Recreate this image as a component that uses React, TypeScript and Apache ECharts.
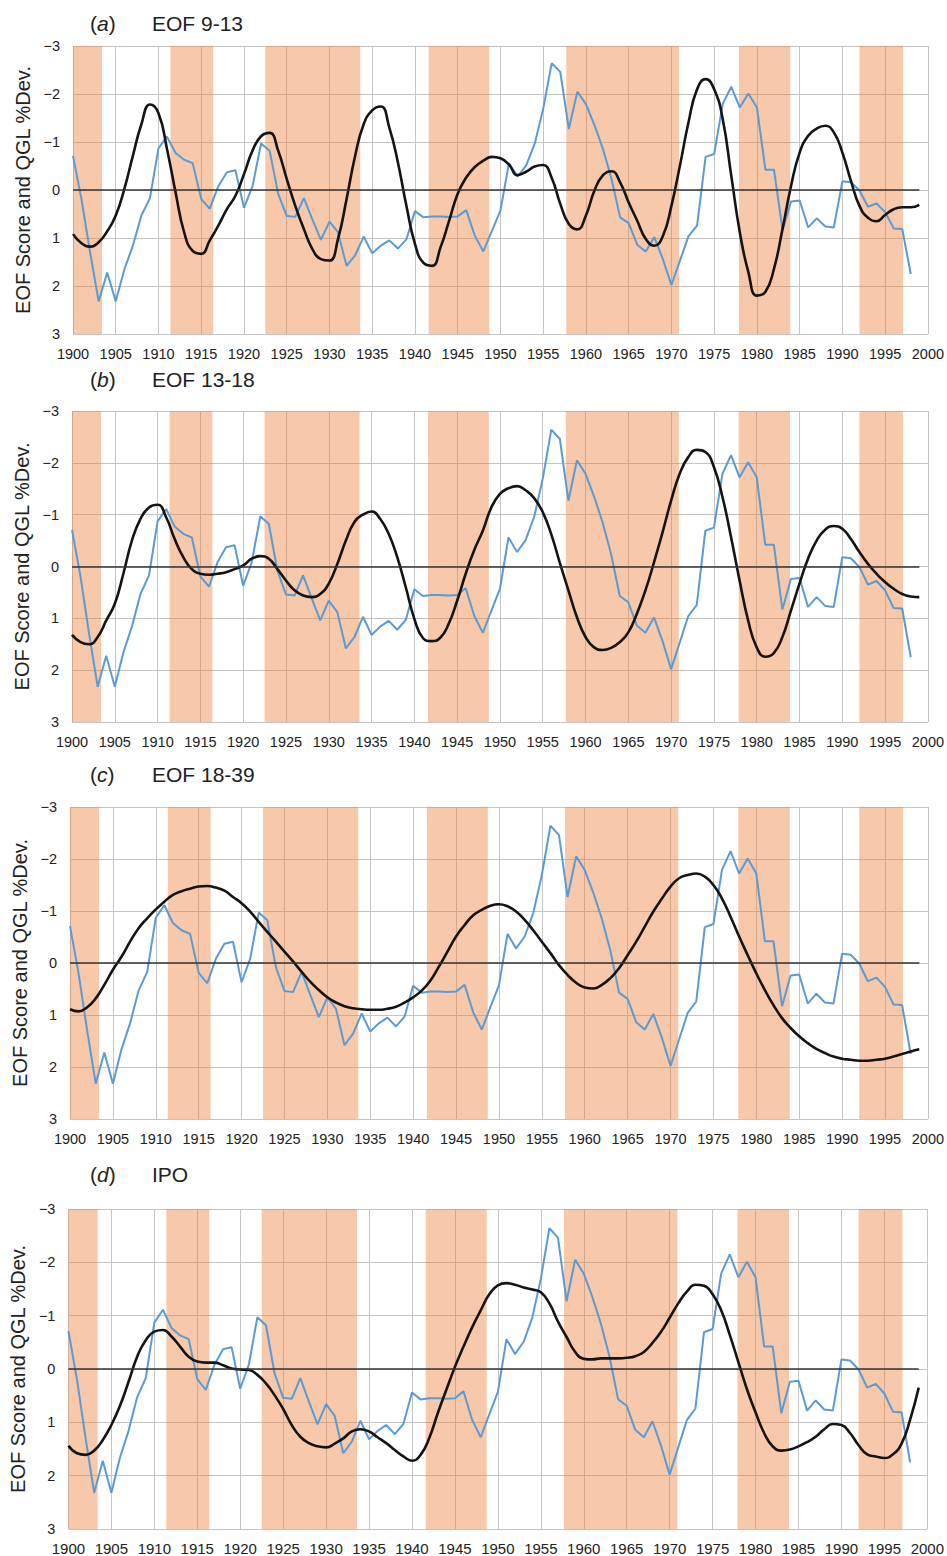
import React, { useEffect, useRef } from "react";
import * as echarts from "echarts";

const START_YEAR = 1900;

// QGL %Dev. (blue), annual 1900-1998
const qglDev = [
  -0.71, 0.2, 1.3, 2.32, 1.72, 2.32, 1.66, 1.16, 0.53, 0.17,
  -0.87, -1.11, -0.77, -0.63, -0.56, 0.19, 0.39, -0.08, -0.37, -0.41,
  0.37, -0.08, -0.97, -0.82, 0.08, 0.54, 0.56, 0.17, 0.61, 1.04,
  0.66, 0.88, 1.58, 1.36, 0.97, 1.32, 1.16, 1.05, 1.22, 1.03,
  0.44, 0.57, 0.55, 0.55, 0.56, 0.55, 0.42, 0.95, 1.28, 0.85,
  0.43, -0.56, -0.28, -0.51, -0.96, -1.69, -2.64, -2.46, -1.27, -2.05,
  -1.79, -1.35, -0.85, -0.23, 0.57, 0.69, 1.14, 1.28, 0.98, 1.44,
  1.98, 1.47, 0.96, 0.74, -0.69, -0.75, -1.79, -2.15, -1.72, -2.01,
  -1.72, -0.42, -0.42, 0.83, 0.24, 0.22, 0.78, 0.59, 0.76, 0.78,
  -0.18, -0.16, 0.01, 0.35, 0.28, 0.46, 0.8, 0.81, 1.75,
];

// EOF scores (black), annual 1900-1999
const eof9to13 = [
  0.92, 1.11, 1.18, 1.09, 0.86, 0.53, -0.02, -0.71, -1.37, -1.78,
  -1.6, -0.85, 0.05, 0.88, 1.27, 1.33, 1.05, 0.74, 0.4, 0.12,
  -0.33, -0.82, -1.12, -1.19, -0.82, -0.23, 0.33, 0.81, 1.23, 1.44,
  1.47, 1.02, 0.19, -0.71, -1.37, -1.66, -1.74, -1.3, -0.58, 0.33,
  1.12, 1.52, 1.58, 1.19, 0.64, 0.08, -0.26, -0.48, -0.61, -0.69,
  -0.66, -0.53, -0.31, -0.38, -0.49, -0.52, -0.25, 0.29, 0.71, 0.82,
  0.53, 0.01, -0.31, -0.39, -0.16, 0.26, 0.64, 1.02, 1.16, 0.96,
  0.33, -0.51, -1.41, -2.1, -2.31, -2.1, -1.48, -0.3, 0.88, 1.71,
  2.2, 2.12, 1.64, 0.81, -0.09, -0.78, -1.13, -1.28, -1.34, -1.2,
  -0.78, -0.19, 0.33, 0.58, 0.65, 0.52, 0.4, 0.36, 0.36, 0.31,
];

const eof13to18 = [
  1.32, 1.46, 1.5, 1.36, 1.04, 0.72, 0.14, -0.5, -0.92, -1.14,
  -1.19, -0.95, -0.53, -0.18, 0.05, 0.14, 0.16, 0.14, 0.11, 0.05,
  -0.02, -0.15, -0.2, -0.15, 0.05, 0.27, 0.46, 0.56, 0.59, 0.53,
  0.33, -0.05, -0.5, -0.86, -1.0, -1.06, -0.92, -0.63, -0.18, 0.4,
  1.01, 1.38, 1.44, 1.38, 1.11, 0.66, 0.14, -0.32, -0.69, -1.14,
  -1.4, -1.51, -1.55, -1.47, -1.32, -1.05, -0.62, -0.07, 0.46, 0.98,
  1.36, 1.56, 1.61, 1.57, 1.46, 1.27, 0.91, 0.46, -0.08, -0.66,
  -1.27, -1.79, -2.11, -2.25, -2.21, -1.92, -1.34, -0.57, 0.27, 1.04,
  1.56, 1.74, 1.67, 1.36, 0.85, 0.33, -0.15, -0.5, -0.71, -0.78,
  -0.73, -0.53, -0.28, -0.05, 0.14, 0.3, 0.43, 0.53, 0.58, 0.59,
];

const eof18to39 = [
  0.89, 0.93, 0.85, 0.68, 0.42, 0.13, -0.12, -0.41, -0.67, -0.86,
  -1.03, -1.18, -1.31, -1.38, -1.43, -1.47, -1.48, -1.45, -1.39, -1.27,
  -1.15, -0.99, -0.79, -0.6, -0.41, -0.22, -0.03, 0.17, 0.36, 0.52,
  0.66, 0.76, 0.83, 0.87, 0.89, 0.9, 0.9, 0.88, 0.84, 0.76,
  0.66, 0.53, 0.34, 0.07, -0.22, -0.51, -0.73, -0.92, -1.02, -1.1,
  -1.13, -1.09, -0.99, -0.83, -0.63, -0.41, -0.19, 0.04, 0.23, 0.38,
  0.47, 0.49, 0.42, 0.29, 0.1, -0.15, -0.41, -0.7, -0.99, -1.24,
  -1.47, -1.63, -1.69, -1.72, -1.66, -1.5, -1.24, -0.89, -0.51, -0.15,
  0.2, 0.52, 0.81, 1.06, 1.25, 1.41, 1.54, 1.65, 1.73, 1.8,
  1.84, 1.86, 1.88, 1.88, 1.86, 1.84, 1.8, 1.75, 1.7, 1.66,
];

const ipo = [
  1.44, 1.58, 1.61, 1.53, 1.33, 1.05, 0.69, 0.24, -0.23, -0.54,
  -0.7, -0.73, -0.61, -0.42, -0.23, -0.14, -0.12, -0.12, -0.07, -0.01,
  0.01, 0.02, 0.11, 0.27, 0.49, 0.75, 1.05, 1.27, 1.39, 1.45,
  1.47, 1.4, 1.3, 1.17, 1.13, 1.17, 1.28, 1.39, 1.52, 1.64,
  1.72, 1.61, 1.3, 0.83, 0.39, -0.04, -0.42, -0.78, -1.1, -1.4,
  -1.57, -1.61, -1.58, -1.53, -1.49, -1.44, -1.23, -0.89, -0.6, -0.32,
  -0.19, -0.18, -0.2, -0.2, -0.2, -0.21, -0.24, -0.32, -0.49, -0.7,
  -0.96, -1.23, -1.45, -1.58, -1.56, -1.4, -1.1, -0.64, -0.13, 0.38,
  0.81, 1.2, 1.45, 1.53, 1.51, 1.45, 1.37, 1.27, 1.13, 1.03,
  1.05, 1.2, 1.43, 1.6, 1.64, 1.67, 1.6, 1.4, 0.95, 0.35,
];

// shaded periods (start year, end year)
const shadedPeriods = [
  [1900, 1903.4],
  [1911.4, 1916.4],
  [1922.5, 1933.6],
  [1941.6, 1948.7],
  [1957.7, 1970.9],
  [1977.9, 1983.9],
  [1992.0, 1997.1],
];

const panelLetters = ["a", "b", "c", "d"];
const panelTitles = ["EOF 9-13", "EOF 13-18", "EOF 18-39", "IPO"];
const eofSeries = [eof9to13, eof13to18, eof18to39, ipo];
const yTicks = [-3, -2, -1, 0, 1, 2, 3];
const yAxisName = "EOF Score and QGL %Dev.";

const FONT = "'Liberation Sans', Arial, Helvetica, sans-serif";

const grids = [
  { left: 73, right: 17, top: 46, height: 288 },
  { left: 72, right: 17, top: 411, height: 311 },
  { left: 70, right: 18, top: 807, height: 312 },
  { left: 62, right: 8, top: 1209, height: 320 },
];
const titleCenters = [23, 379, 774, 1174];

export default function App() {
  const ref = useRef<HTMLDivElement>(null);

  useEffect(() => {
    document.body.style.margin = "0";
    if (!ref.current) return;
    const chart = echarts.init(ref.current, null, { renderer: "svg" });

    const xAxes = grids.map((_, i) => ({
      type: "value",
      gridIndex: i,
      min: 1900,
      max: 2000,
      interval: 5,
      axisLine: { show: false },
      axisTick: { show: false },
      axisLabel: {
        formatter: (v: number) => String(v),
        fontSize: i === 3 ? 15 : 14.5,
        color: "#222",
        fontFamily: FONT,
        margin: 12,
      },
      splitLine: { show: true, lineStyle: { color: "#c4c4c4", width: 1 } },
    }));

    const yAxes = grids.map((_, i) => ({
      type: "value",
      gridIndex: i,
      min: yTicks[0],
      max: yTicks[yTicks.length - 1],
      interval: 1,
      inverse: true,
      name: yAxisName,
      nameLocation: "middle",
      nameGap: i === 3 ? 36 : 40,
      nameTextStyle: { fontSize: 20, color: "#222", fontFamily: FONT },
      axisLine: { show: false },
      axisTick: { show: false },
      axisLabel: {
        formatter: (v: number) => (v < 0 ? "\u2212" + Math.abs(v) : String(v)),
        fontSize: 14.5,
        color: "#222",
        fontFamily: FONT,
        margin: 13,
      },
      splitLine: { show: true, lineStyle: { color: "#c4c4c4", width: 1 } },
    }));

    const series: any[] = [];
    grids.forEach((_, i) => {
      series.push({
        type: "line",
        xAxisIndex: i,
        yAxisIndex: i,
        data: [],
        z: 1,
        silent: true,
        markArea: {
          silent: true,
          itemStyle: { color: "rgba(237,125,49,0.42)" },
          data: shadedPeriods.map((p) => [{ xAxis: p[0] }, { xAxis: p[1] }]),
        },
      });
      series.push({
        type: "line",
        xAxisIndex: i,
        yAxisIndex: i,
        data: [],
        z: 2,
        silent: true,
        markLine: {
          silent: true,
          symbol: "none",
          label: { show: false },
          lineStyle: { color: "#333", width: 1.6, type: "solid" },
          data: [[{ coord: [1900, 0] }, { coord: [1999, 0] }]],
        },
      });
      series.push({
        type: "line",
        name: "QGL %Dev.",
        xAxisIndex: i,
        yAxisIndex: i,
        data: qglDev.map((v, k) => [START_YEAR + k, v]),
        showSymbol: false,
        symbol: "none",
        lineStyle: { color: "#5B9BD5", width: 2 },
        z: 3,
      });
      series.push({
        type: "line",
        name: panelTitles[i],
        xAxisIndex: i,
        yAxisIndex: i,
        data: eofSeries[i].map((v, k) => [START_YEAR + k, v]),
        smooth: 0.5,
        showSymbol: false,
        symbol: "none",
        lineStyle: { color: "#141414", width: 2.6 },
        z: 4,
      });
    });

    const graphic: any[] = [];
    panelLetters.forEach((l, i) => {
      graphic.push({
        type: "text",
        x: 90,
        y: titleCenters[i],
        style: {
          text: "({it|" + l + "})",
          fontSize: 21,
          fontFamily: FONT,
          fill: "#222",
          verticalAlign: "middle",
          rich: { it: { fontStyle: "italic", fontSize: 21, fontFamily: FONT, fill: "#222" } },
        },
      });
      graphic.push({
        type: "text",
        x: 152,
        y: titleCenters[i],
        style: {
          text: panelTitles[i],
          fontSize: 21,
          fontFamily: FONT,
          fill: "#222",
          verticalAlign: "middle",
        },
      });
    });

    chart.setOption({
      animation: false,
      backgroundColor: "#fff",
      grid: grids.map((g) => ({ ...g, containLabel: false })),
      xAxis: xAxes,
      yAxis: yAxes,
      series,
      graphic,
    });

    return () => chart.dispose();
  }, []);

  return <div ref={ref} style={{ width: 947, height: 1556 }} />;
}
